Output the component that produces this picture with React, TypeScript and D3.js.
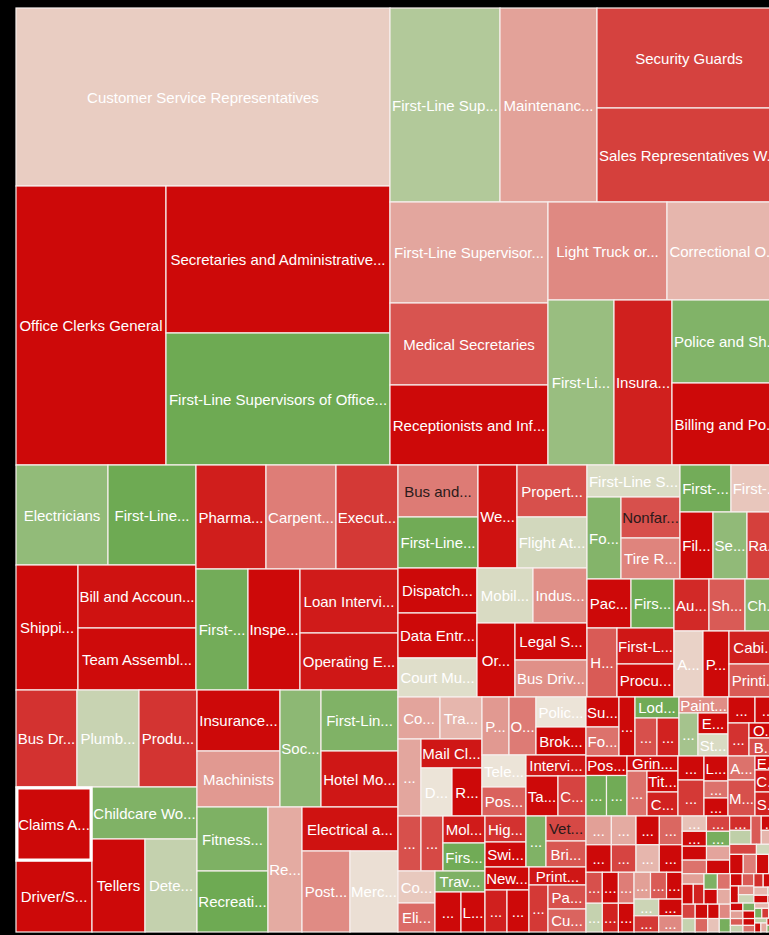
import { useMemo } from "react";
import * as d3 from "d3";

// Occupation cells. branch = position of the cell in the nested split tree.
const occupations = [
  "Customer Service Representatives", "Office Clerks General", "Secretaries and Administrative Assistants",
  "First-Line Supervisors of Office and Administrative Support Workers", "First-Line Supervisors of Retail Sales Workers",
  "Maintenance and Repair Workers General", "Security Guards", "Sales Representatives Wholesale and Manufacturing",
  "First-Line Supervisors of Food Preparation Workers", "Medical Secretaries", "Receptionists and Information Clerks",
  "Light Truck or Delivery Services Drivers", "Correctional Officers and Jailers", "First-Line Supervisors of Mechanics",
  "Insurance Claims and Policy Processing Clerks", "Police and Sheriff's Patrol Officers", "Billing and Posting Clerks",
  "Electricians", "First-Line Supervisors of Production Workers", "Shipping Receiving and Traffic Clerks",
  "Bill and Account Collectors", "Team Assemblers", "Pharmacy Technicians", "Carpenters",
  "Executive Secretaries and Executive Administrative Assistants", "First-Line Supervisors of Construction Trades Workers",
  "Inspectors Testers Sorters Samplers and Weighers", "Loan Interviewers and Clerks",
  "Operating Engineers and Other Construction Equipment Operators", "Bus Drivers Transit and Intercity",
  "Plumbers Pipefitters and Steamfitters", "Production Workers All Other", "Claims Adjusters Examiners and Investigators",
  "Driver/Sales Workers", "Childcare Workers", "Tellers", "Detectives and Criminal Investigators",
  "Insurance Sales Agents", "Machinists", "Social and Human Service Assistants",
  "First-Line Supervisors of Personal Service Workers", "Hotel Motel and Resort Desk Clerks",
  "Fitness Trainers and Aerobics Instructors", "Recreation Workers", "Real Estate Sales Agents",
  "Electrical and Electronic Equipment Assemblers", "Postal Service Clerks", "Merchandise Displayers and Window Trimmers",
  "Bus and Truck Mechanics and Diesel Engine Specialists", "First-Line Supervisors of Landscaping Workers",
  "Welders Cutters Solderers and Brazers", "Property Real Estate and Community Association Managers",
  "Flight Attendants", "Dispatchers Except Police Fire and Ambulance", "Data Entry Keyers",
  "Court Municipal and License Clerks", "Mobile Heavy Equipment Mechanics", "Industrial Machinery Mechanics",
  "Order Clerks", "Legal Secretaries", "Bus Drivers School or Special Client",
  "First-Line Supervisors of Housekeeping Workers", "Food Service Managers", "Nonfarm Animal Caretakers",
  "Tire Repairers and Changers", "First-Line Supervisors of Firefighting Workers",
  "First-Line Supervisors of Helpers and Laborers", "File Clerks", "Self-Enrichment Education Teachers",
  "Railroad Conductors and Yardmasters", "Packaging and Filling Machine Operators",
  "First-Line Supervisors of Transportation Workers", "Hairdressers Hairstylists and Cosmetologists",
  "First-Line Supervisors of Non-Retail Sales Workers", "Procurement Clerks", "Automotive Body and Related Repairers",
  "Sheet Metal Workers", "Chefs and Head Cooks", "Animal Control Workers", "Payroll and Timekeeping Clerks",
  "Cabinetmakers and Bench Carpenters", "Printing Press Operators", "Construction and Building Inspectors",
  "Travel Agents", "Morticians Undertakers and Funeral Arrangers", "Mail Clerks and Mail Machine Operators",
  "Dental Assistants", "Reservation and Transportation Ticket Agents", "Parts Salespersons", "Opticians Dispensing",
  "Police Fire and Ambulance Dispatchers", "Brokerage Clerks", "Telephone Operators", "Postal Service Mail Carriers",
  "Interviewers Except Eligibility and Loan", "Tax Preparers", "Credit Authorizers Checkers and Clerks",
  "Meter Readers Utilities", "Gas Plant Operators", "Molders Shapers and Casters",
  "First-Line Supervisors of Gaming Workers", "Correspondence Clerks", "Eligibility Interviewers Government Programs",
  "Travel Guides", "Gaming Dealers", "Library Assistants Clerical", "Highway Maintenance Workers",
  "Switchboard Operators", "Heavy Vehicle Service Technicians", "Veterinary Assistants and Laboratory Animal Caretakers",
  "Bridge and Lock Tenders", "New Accounts Clerks", "Cooks Private Household", "Dredge Operators",
  "Print Binding and Finishing Workers", "Upholsterers", "Paving Surfacing and Tamping Equipment Operators",
  "Custom Tailors", "Surveying and Mapping Technicians", "Food Batchmakers", "Motorboat Operators",
  "Lodging Managers", "Crane and Tower Operators", "Hoist and Winch Operators",
  "Painting Coating and Decorating Workers", "Orderlies", "Extruding and Drawing Machine Setters", "Stonemasons",
  "Window Trimmers", "Wood Model Makers", "Machine Feeders and Offbearers", "Ophthalmic Laboratory Technicians",
  "Bakers", "Postmasters and Mail Superintendents", "Manicurists and Pedicurists", "Helpers Carpenters",
  "Grinding Lapping Polishing and Buffing Machine Tool Setters", "Cleaners of Vehicles and Equipment",
  "Title Examiners Abstractors and Searchers", "Camera Operators", "Woodworking Machine Operators",
  "Mine Cutting Machine Operators", "Locksmiths and Safe Repairers", "Home Appliance Repairers",
  "Word Processors and Typists", "Aircraft Cargo Handling Supervisors", "Motion Picture Projectionists",
  "Etchers and Engravers", "Cooling and Freezing Equipment Operators", "Shoe and Leather Workers",
];

const employment = [
  66572, 41850, 32928, 29568, 21340, 18818, 18400, 17296, 15958, 12956, 12640, 11662, 11172, 10890, 9570, 9047, 8938,
  9200, 8800, 7750, 7434, 7316, 7280, 7280, 6448, 6292, 6292, 6272, 5586,
  5917, 6014, 5626, 5624, 5396, 5460, 4929, 4836, 5063, 4648, 4797, 4697, 4312, 4544, 4331, 4250, 4224, 3888, 3888,
  4160, 4080, 4017, 3640, 3570, 3555, 3555, 3081, 3080, 2970, 2812, 2664, 2664,
  2976, 2788, 2419, 2419, 2397, 2350, 2211, 2278, 2278, 2156, 2107, 2070, 2052, 1881, 1820, 1872, 1872, 1914, 1716,
  1716, 1716, 1764, 1764, 1771, 1769, 1488, 1440, 1566, 1566, 1500, 1400, 1408, 1276, 1260, 1280, 1120,
  1265, 1210, 1134, 1176, 1184, 1073, 1050, 1040, 960, 1066, 1025, 1020, 1000, 1040, 1012, 924, 924, 1026, 893, 912, 874,
  990, 957, 944, 924, 836, 836, 784, 817, 630, 660, 702, 676, 693, 480, 576,
  800, 830, 830, 765, 900, 651, 744, 624, 936, 600, 408, 432, 648, 972, 364, 572, 624,
];

// relative change, -1 (strong decline) .. +1 (strong growth)
const change = [
  -0.1, -0.96, -0.96, 0.97, 0.45, -0.29, -0.71, -0.72, -0.27, -0.63, -0.96, -0.4, -0.2, 0.64, -0.86, 0.82, -0.96,
  0.69, 0.97, -0.96, -0.92, -0.95, -0.87, -0.45, -0.75, 0.93, -0.96, -0.88, -0.9,
  -0.78, 0.28, -0.77, -0.96, -0.96, 0.83, -0.96, 0.31, -0.96, -0.33, 0.73, 0.83, -0.9, 0.85, 0.97, -0.25, -0.92, -0.39, -0.02,
  -0.46, 0.95, -0.92, -0.65, 0.2, -0.96, -0.96, 0.1, 0.15, -0.37, -0.96, -0.96, -0.37,
  0.14, 0.8, -0.65, -0.42, 0.93, -0.13, -0.96, 0.7, -0.72, -0.96, 0.97, -0.6, -0.9, -0.96, -0.82, -0.6, 0.78, -0.08, -0.96,
  -0.86, -0.6, -0.28, -0.2, -0.27, -0.9, 0, -0.96, -0.33, -0.46, 0, -0.96, 0, -0.57, -0.9, -0.96, -0.7,
  -0.65, -0.68, -0.88, 0.95, -0.12, -0.53, 0.85, -0.96, -0.96, -0.78, -0.96, 0.83, -0.68, -0.62, -0.96, -0.86, -0.96, -0.9, -0.75, -0.65, -0.56,
  -0.96, -0.5, -0.96, 0.95, -0.65, -0.85, -0.38, 0.55, -0.96, 0.15, -0.96, -0.96, -0.78, -0.96, -0.65,
  -0.96, 0.95, 0.95, -0.96, -0.5, -0.96, -0.85, -0.96, -0.75, -0.96, -0.5, -0.96, -0.5, -0.65, -0.96, -0.9, -0.85,
];

const branch = [
  "000", "0010", "00110", "00111", "0100", "0101", "01020", "01021", "01100", "01101", "01102", "011100", "011101",
  "011110", "011111", "0111120", "0111121",
  "100000", "100001", "100010", "1000110", "1000111", "100100", "100101", "100102", "100110", "100111", "1001120", "1001121",
  "101000", "101001", "101002", "1010100", "1010101", "1010110", "10101110", "10101111",
  "1011000", "1011001", "1011010", "10110110", "10110111", "1011100", "1011101", "101111", "1011120", "10111210", "10111211",
  "1100000", "1100001", "110001", "1100020", "1100021", "1100100", "1100101", "1100102", "11001100", "11001101",
  "11001110", "110011110", "110011111",
  "1101000", "11010010", "110100110", "110100111", "11010100", "11010101", "11010110", "11010111", "11010112",
  "11011000", "11011001", "11011010", "110110110", "110110111", "11011100", "11011101", "11011102", "11011110",
  "11011111", "110111120", "110111121",
  "11100000", "11100001", "11100010", "111000110", "1110001110", "1110001111", "11100100", "11100101", "111001020",
  "111001021", "111001100", "111001101", "111001110", "1110011110", "1110011111",
  "11101000", "11101001", "111010020", "111010021", "111010100", "111010101", "111010110", "1110101110", "1110101111",
  "111011000", "111011001", "11101101", "111011020", "111011021", "111011100", "1110111010", "1110111011",
  "111011110", "1110111110", "11101111110", "11101111111",
  "1111000", "1111001", "111101", "1111020", "11110210", "11110211", "1111030", "11110310", "111103110", "111103111",
  "11110400", "11110401", "11110410", "111104110", "111104111",
  "1111100", "11111010", "11111011", "1111110", "11111110", "111111110", "111111111", "1111120", "1111121",
  "1111130", "1111131", "1111132", "1111140", "1111141", "1111150", "1111151", "1111152",
];

// the dense corner of smallest occupations
const bandBranch = "11112";
const bandOccupations = [
  "Meat Poultry and Fish Cutters", "Weighers Measurers and Checkers", "Crossing Guards and Flaggers", "Dietetic Technicians",
  "Gaming Cage Workers", "Hearing Aid Specialists", "Ophthalmic Medical Technicians", "Medical Transcriptionists",
  "Wellhead Pumpers", "Coating and Painting Machine Setters", "Drilling and Boring Machine Tool Setters", "Glaziers",
  "Hazardous Materials Removal Workers", "Motorcycle Mechanics", "Ushers Lobby Attendants and Ticket Takers", "Cutters and Trimmers Hand",
  "Door-to-Door Sales Workers", "Grader Dozer and Scraper Operators", "Heat Treating Equipment Setters", "Milling and Planing Machine Setters",
  "Welding and Soldering Machine Setters", "Conveyor Operators and Tenders", "Drywall and Ceiling Tile Installers", "Gas Compressor Operators",
  "Home Health Aides", "Multiple Machine Tool Setters", "Woodworking Machine Setters", "Carpet Installers",
  "Mechanical Door Repairers", "Control and Valve Installers", "Model Makers Metal and Plastic", "Derrick Operators Oil and Gas",
  "Gem and Diamond Workers", "Hotel Porters and Bellhops", "Orthotists and Prosthetists", "Museum Technicians and Conservators",
  "Watch and Clock Repairers", "Camera and Photographic Equipment Repairers", "Dental Laboratory Technicians", "Glass Blowers Molders and Benders",
  "Helpers Painters Paperhangers", "Musical Instrument Repairers", "Wind Turbine Service Technicians", "Cooks Short Order",
  "Dishwashers", "Gaming Surveillance Officers", "Hand Packers and Packagers", "Mine Shuttle Car Operators",
  "Woodworkers All Other", "Cement Masons", "Demonstrators and Product Promoters", "Geological Sample Test Technicians",
  "Helpers Electricians", "Nuclear Power Reactor Operators", "Mold Makers Hand", "Wholesale and Retail Buyers",
  "Conservation Workers", "Dining Room Attendants", "Graders and Sorters Agricultural", "Helpers Roofers",
  "Mortician Assistants", "Wire Drawing Machine Setters", "Credit Checkers", "Desktop Publishers",
  "Gaming Change Persons and Booth Cashiers", "Hunters and Trappers", "Occupational Therapy Aides", "Wallpaper Hangers",
  "Court Reporters", "Dental Hygienists", "Grinding and Polishing Workers", "Mail Machine Operators",
  "Wood Sawing Machine Operators", "Mixing and Blending Machine Setters", "Cutting Machine Operators", "Door Installers",
  "Grounds Keepers Seasonal", "Hand Sewers", "Ophthalmic Dispensers", "Mold and Core Makers",
  "Water Treatment Operators", "Coil Winders and Tapers", "Dairy Processing Operators", "Garment Pressers",
  "Hide Tanners", "Oil Field Helpers", "Metal Pourers and Casters", "Wire Harness Assemblers",
];
const bandEmployment = [
  730, 710, 695, 680, 670, 658, 640, 630,
  505, 498, 486, 470, 462, 450, 441, 430,
  420, 412, 400, 392, 380, 371, 362, 355,
  346, 338, 330, 322, 315, 306, 298, 290,
  283, 276, 270, 262, 255, 248, 240, 234,
  228, 222, 215, 210, 204, 198, 192, 186,
  180, 175, 170, 165, 160, 155, 150, 146,
  142, 138, 134, 130, 126, 122, 118, 114,
  110, 106, 102, 98, 95, 92, 89, 86,
  83, 80, 77, 74, 71, 68, 65, 62,
  60, 58, 56, 54, 52, 50, 48, 44,
];
const bandChange = [
  -0.3, -0.25, -0.96, -0.7, -0.96, -0.55, -0.2, -0.96,
  -0.65, -0.96, -0.45, 0.3, -0.85, -0.96, -0.3, -0.6,
  -0.96, 0.25, -0.75, -0.96, -0.4, -0.15, -0.96, -0.7,
  0.9, -0.96, -0.5, -0.28, -0.96, -0.8, 0.35, -0.6,
  -0.96, -0.2, -0.7, -0.96, -0.45, 0.2, -0.96, -0.6,
  -0.3, -0.96, -0.85, 0.85, -0.5, -0.96, -0.25, -0.7,
  -0.96, 0.3, -0.55, -0.96, -0.4, -0.15, 0.9, -0.96,
  -0.6, -0.96, -0.35, 0.25, -0.8, -0.96, -0.5, -0.2,
  -0.96, 0.4, -0.7, -0.96, -0.3, 0.85, -0.96, -0.6,
  0.3, -0.96, -0.5, -0.2, 0.9, -0.75, -0.96, -0.4,
  -0.6, 0.35, -0.96, -0.25, -0.85, 0.8, -0.5, -0.96,
];

const darkLabels = [
  "Bus and Truck Mechanics and Diesel Engine Specialists",
  "Nonfarm Animal Caretakers",
  "Veterinary Assistants and Laboratory Animal Caretakers",
];
const hovered = "Claims Adjusters Examiners and Investigators";

const W = 769;
const H = 935;
const FONT = "15px 'Liberation Sans', Arial, sans-serif";

type TNode = { id: string; children: TNode[]; name?: string; value?: number; delta?: number };

function buildTree(): TNode {
  const root: TNode = { id: "", children: [] };
  const lookup = new Map<string, TNode>([["", root]]);
  const insert = (keys: string[], name: string, value: number, delta: number) => {
    let parent = root;
    let id = "";
    keys.forEach((k) => {
      id += "/" + k;
      let node = lookup.get(id);
      if (!node) {
        node = { id, children: [] };
        lookup.set(id, node);
        parent.children.push(node);
      }
      parent = node;
    });
    parent.name = name;
    parent.value = value;
    parent.delta = delta;
  };
  occupations.forEach((n, i) => insert(branch[i].split(""), n, employment[i], change[i]));
  bandOccupations.forEach((n, i) =>
    insert([...bandBranch.split(""), "b" + i], n, bandEmployment[i], bandChange[i])
  );
  return root;
}

// pairs/short groups are cut along the longer side, big flat groups use binary splits
const tile = (node: any, x0: number, y0: number, x1: number, y1: number) => {
  if (node.children.length > 6) d3.treemapBinary(node, x0, y0, x1, y1);
  else if (x1 - x0 >= y1 - y0) d3.treemapDice(node, x0, y0, x1, y1);
  else d3.treemapSlice(node, x0, y0, x1, y1);
};

const color = d3
  .scaleLinear<string>()
  .domain([-1, 0, 1])
  .range(["#cc0000", "#ece4d8", "#6aa84f"])
  .clamp(true);

export default function App() {
  const leaves = useMemo(() => {
    const hier = d3
      .hierarchy<TNode>(buildTree(), (d) => (d.children.length ? d.children : null))
      .sum((d) => d.value ?? 0);
    d3.treemap<TNode>().size([765, 924]).tile(tile).round(false)(hier);
    return hier.leaves() as d3.HierarchyRectangularNode<TNode>[];
  }, []);

  const fit = useMemo(() => {
    const ctx = document.createElement("canvas").getContext("2d")!;
    ctx.font = FONT;
    const wd = (s: string) => ctx.measureText(s).width;
    return (name: string, w: number) => {
      const avail = w - 2;
      if (wd(name) <= avail) return name;
      for (let n = name.length - 1; n > 0; n--) {
        const s = name.slice(0, n).trimEnd() + "...";
        if (wd(s) <= avail) return s;
      }
      return wd("...") <= avail ? "..." : "";
    };
  }, []);

  const hoverLeaf = leaves.find((l) => l.data.name === hovered);

  return (
    <div style={{ position: "fixed", left: 0, top: 0, width: W, height: H, background: "#000", overflow: "hidden" }}>
      <svg width={W} height={H} style={{ display: "block" }}>
        <g transform="translate(16,8)">
          {leaves.map((l) => (
            <rect
              key={l.data.id}
              x={l.x0}
              y={l.y0}
              width={l.x1 - l.x0}
              height={l.y1 - l.y0}
              fill={color(l.data.delta ?? 0)}
              stroke="#f7efed"
              strokeWidth={1.2}
            />
          ))}
          {leaves.map((l) => {
            const w = l.x1 - l.x0;
            const h = l.y1 - l.y0;
            if (h < 14) return null;
            const label = fit(l.data.name ?? "", w);
            if (!label) return null;
            return (
              <text
                key={"t" + l.data.id}
                x={(l.x0 + l.x1) / 2}
                y={(l.y0 + l.y1) / 2}
                textAnchor="middle"
                dominantBaseline="central"
                fontFamily="'Liberation Sans', Arial, sans-serif"
                fontSize={15}
                fill={darkLabels.includes(l.data.name ?? "") ? "#2b1a1a" : "#ffffff"}
              >
                {label}
              </text>
            );
          })}
          {hoverLeaf && (
            <rect
              x={hoverLeaf.x0 + 1}
              y={hoverLeaf.y0 + 1}
              width={hoverLeaf.x1 - hoverLeaf.x0 - 2}
              height={hoverLeaf.y1 - hoverLeaf.y0 - 2}
              fill="none"
              stroke="#ffffff"
              strokeWidth={3}
            />
          )}
        </g>
      </svg>
    </div>
  );
}
